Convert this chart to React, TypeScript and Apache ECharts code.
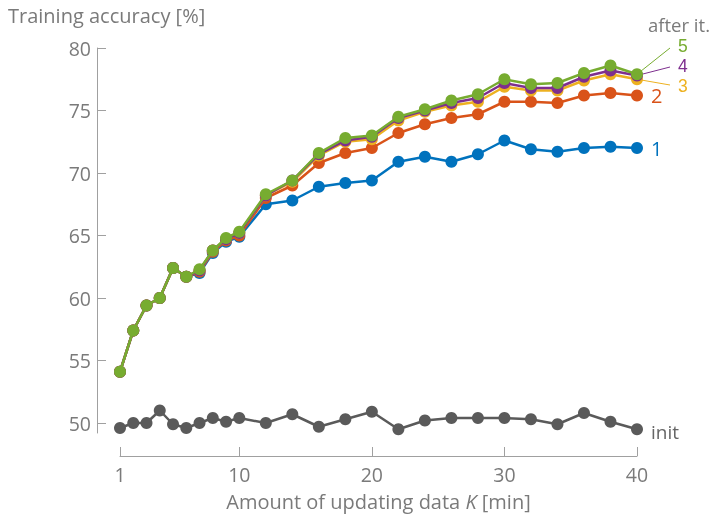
import React, { useEffect, useRef } from "react";
import * as echarts from "echarts";

// Amount of updating data K [min]
const K = [1, 2, 3, 4, 5, 6, 7, 8, 9, 10, 12, 14, 16, 18, 20, 22, 24, 26, 28, 30, 32, 34, 36, 38, 40];

// Training accuracy [%] for the initial model and after each iteration
const accInit = [49.6, 50.0, 50.0, 51.0, 49.9, 49.6, 50.0, 50.4, 50.1, 50.4, 50.0, 50.7, 49.7, 50.3, 50.9, 49.5, 50.2, 50.4, 50.4, 50.4, 50.3, 49.9, 50.8, 50.1, 49.5];
const accIter1 = [54.1, 57.4, 59.4, 60.0, 62.4, 61.7, 62.0, 63.6, 64.5, 64.9, 67.5, 67.8, 68.9, 69.2, 69.4, 70.9, 71.3, 70.9, 71.5, 72.6, 71.9, 71.7, 72.0, 72.1, 72.0];
const accIter2 = [54.1, 57.4, 59.4, 60.0, 62.4, 61.7, 62.1, 63.7, 64.6, 65.0, 68.0, 69.0, 70.8, 71.6, 72.0, 73.2, 73.9, 74.4, 74.7, 75.7, 75.7, 75.6, 76.2, 76.4, 76.2];
const accIter3 = [54.1, 57.4, 59.4, 60.0, 62.4, 61.7, 62.2, 63.8, 64.7, 65.2, 68.2, 69.3, 71.4, 72.5, 72.7, 74.2, 74.9, 75.4, 75.7, 76.9, 76.6, 76.6, 77.4, 77.9, 77.5];
const accIter4 = [54.1, 57.4, 59.4, 60.0, 62.4, 61.7, 62.2, 63.8, 64.7, 65.2, 68.2, 69.4, 71.5, 72.6, 72.9, 74.4, 75.0, 75.6, 76.0, 77.2, 76.8, 76.8, 77.7, 78.2, 77.8];
const accIter5 = [54.1, 57.4, 59.4, 60.0, 62.4, 61.7, 62.3, 63.8, 64.8, 65.3, 68.3, 69.4, 71.6, 72.8, 73.0, 74.5, 75.1, 75.8, 76.3, 77.5, 77.1, 77.2, 78.0, 78.6, 77.9];

const xTicks = [1, 10, 20, 30, 40];
const yTicks = [50, 55, 60, 65, 70, 75, 80];

const seriesNames = ["init", "1", "2", "3", "4", "5"];
const seriesData = [accInit, accIter1, accIter2, accIter3, accIter4, accIter5];
const seriesColors = ["#5a5a5a", "#0072BD", "#D95319", "#EDB120", "#7E2F8E", "#77AC30"];

const FONT = "'Open Sans', Lato, sans-serif";
const TIGHT_FONT = "'Liberation Sans', Arial, sans-serif";
const TEXT = "#7a7a7a";
const AXIS = "#a0a0a0";

export default function App() {
  const ref = useRef<HTMLDivElement>(null);

  useEffect(() => {
    if (!ref.current) return;
    const chart = echarts.init(ref.current, null, { renderer: "svg" });

    chart.setOption({
      animation: false,
      textStyle: { fontFamily: FONT },
      grid: { left: 120, right: 77, top: 48, bottom: 89, containLabel: false },
      xAxis: {
        type: "value",
        min: 1,
        max: 40,
        offset: 23,
        splitLine: { show: false },
        axisLine: { lineStyle: { color: AXIS, width: 1 } },
        axisTick: { inside: true, length: 9, customValues: xTicks, lineStyle: { color: AXIS } },
        axisLabel: { customValues: xTicks, color: TEXT, fontSize: 19.5, margin: 8, fontFamily: FONT },
        name: "Amount of updating data {i|K} [min]",
        nameLocation: "middle",
        nameGap: 35,
        nameTextStyle: {
          color: TEXT,
          fontSize: 20,
          fontFamily: FONT,
          rich: { i: { fontStyle: "italic", fontSize: 20, color: TEXT, fontFamily: FONT } },
        },
      },
      yAxis: {
        type: "value",
        min: 49.2,
        max: 80,
        offset: 23,
        splitLine: { show: false },
        axisLine: { show: true, lineStyle: { color: AXIS, width: 1 } },
        axisTick: { show: true, inside: true, length: 9, customValues: yTicks, lineStyle: { color: AXIS } },
        axisLabel: { customValues: yTicks, color: TEXT, fontSize: 19.5, margin: 6, fontFamily: FONT },
      },
      series: seriesData.map((d, i) => ({
        type: "line",
        name: seriesNames[i],
        data: K.map((k, j) => [k, d[j]]),
        color: seriesColors[i],
        symbol: "circle",
        symbolSize: 12,
        clip: false,
        lineStyle: { width: 2.5, color: seriesColors[i] },
        itemStyle: { color: seriesColors[i] },
        z: 2 + i,
      })),
    });

    // Series labels at the right end of each curve
    const last = K.length - 1;
    const endPt = (i: number) => chart.convertToPixel({ gridIndex: 0 }, [K[last], seriesData[i][last]]) as number[];
    const pInit = endPt(0);
    const p1 = endPt(1);
    const p2 = endPt(2);
    const p3 = endPt(3);
    const p4 = endPt(4);
    const p5 = endPt(5);

    const label = (text: string, x: number, y: number, color: string, align = "left", size = 20, family = FONT) => ({
      type: "text",
      x,
      y,
      style: { text, fill: color, font: `${size}px ${family}`, align, verticalAlign: "middle" },
      z: 20,
    });
    const leader = (from: number[], x2: number, y2: number, color: string) => ({
      type: "line",
      shape: { x1: from[0], y1: from[1], x2, y2 },
      style: { stroke: color, lineWidth: 1 },
      z: 1,
    });

    chart.setOption({
      graphic: [
        {
          type: "text",
          left: 8,
          top: 5,
          style: { text: "Training accuracy [%]", fill: TEXT, font: `20px ${FONT}` },
        },
        label("after it.", p5[0] + 42, 24, TEXT, "center", 18.5),
        leader(p5, p5[0] + 33, 48, seriesColors[5]),
        leader(p4, p4[0] + 33, 67, seriesColors[4]),
        leader(p3, p3[0] + 33, 85, seriesColors[3]),
        label("5", p5[0] + 41, 46, seriesColors[5], "left", 17.5, TIGHT_FONT),
        label("4", p4[0] + 41, 66, seriesColors[4], "left", 17.5, TIGHT_FONT),
        label("3", p3[0] + 41, 86, seriesColors[3], "left", 17.5, TIGHT_FONT),
        label("2", p2[0] + 14, p2[1], seriesColors[2]),
        label("1", p1[0] + 14, p1[1], seriesColors[1]),
        label("init", pInit[0] + 14, pInit[1] + 3, "#666666", "left", 19),
      ],
    });

    return () => chart.dispose();
  }, []);

  return <div ref={ref} style={{ position: "fixed", left: 0, top: 0, width: 714, height: 522 }} />;
}
